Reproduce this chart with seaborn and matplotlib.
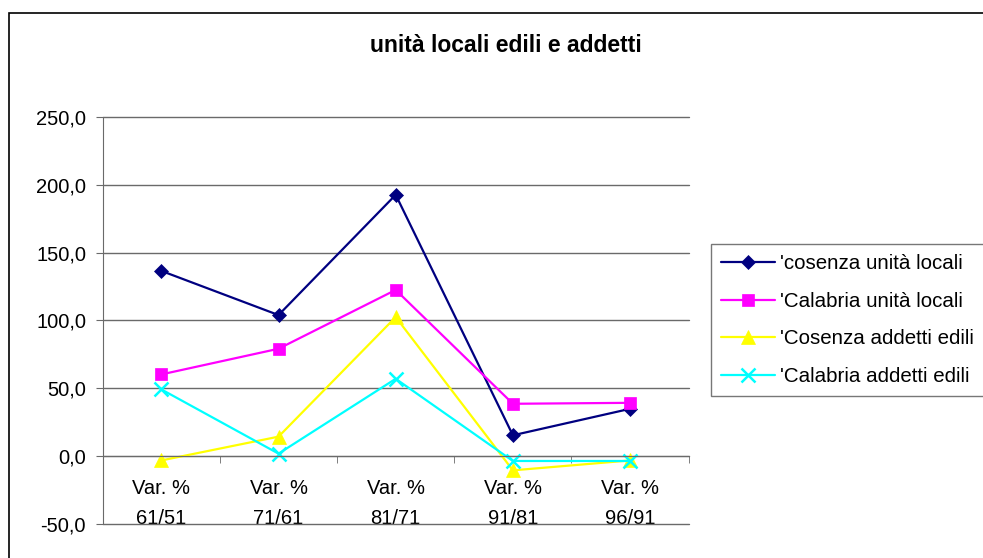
import numpy as np
import pandas as pd
import matplotlib
matplotlib.use("Agg")
import matplotlib.pyplot as plt
import seaborn as sns
from matplotlib.patches import Rectangle
from matplotlib.ticker import FuncFormatter, FixedLocator

# periodi (categorie asse x)
periodi = ["Var. %\n61/51", "Var. %\n71/61", "Var. %\n81/71", "Var. %\n91/81", "Var. %\n96/91"]

# serie
cosenza_unita = [136.5, 104.0, 192.5, 15.5, 35.0]
calabria_unita = [60.3, 79.2, 122.5, 38.7, 39.4]
cosenza_addetti = [-3.0, 14.5, 102.5, -10.3, -3.0]
calabria_addetti = [49.3, 2.0, 57.1, -3.4, -3.4]

serie = ["'cosenza unità locali", "'Calabria unità locali",
         "'Cosenza addetti edili", "'Calabria addetti edili"]
valori = [cosenza_unita, calabria_unita, cosenza_addetti, calabria_addetti]
colori = ["#000080", "#FF00FF", "#FFFF00", "#00FFFF"]
marcatori = ["D", "s", "^", "x"]
dim_marc = [7.5, 8, 9.5, 9.5]

sns.set_style("white")
plt.rcParams['font.family'] = ['Liberation Sans', 'DejaVu Sans']
plt.rcParams['text.color'] = 'black'
plt.rcParams['xtick.color'] = 'black'
plt.rcParams['ytick.color'] = 'black'

fig = plt.figure(figsize=(9.83, 5.58), dpi=100)
ax = fig.add_axes([0.1045, 0.0604, 0.5961, 0.7305])

# bordo esterno dell'area grafico
fig.patches.append(Rectangle((9 / 983, -0.2), 1.2, 1 - 12.7 / 558 + 0.2,
                             transform=fig.transFigure, fill=False,
                             edgecolor="black", linewidth=1.2))

pos = np.arange(len(periodi))
for nome, v, c, m, ms in zip(serie, valori, colori, marcatori, dim_marc):
    sns.lineplot(x=pos, y=v, ax=ax, color=c, marker=m, markersize=ms,
                 markeredgecolor=c, markerfacecolor=c,
                 markeredgewidth=1.8 if m == "x" else 0.5,
                 linewidth=1.6, label=nome)

ax.set_xlim(-0.5, len(periodi) - 0.5)
ax.set_ylim(-50, 250)
ax.set_yticks(np.arange(-50, 251, 50))
ax.yaxis.set_major_formatter(FuncFormatter(lambda y, p: f"{y:.1f}".replace(".", ",")))
ax.grid(axis="y", color="#6a6a6a", linewidth=1.0)
ax.set_axisbelow(True)
for gl in ax.get_ygridlines():
    gl.set_clip_on(False)

ax.set_xticks(pos)
ax.set_xticklabels(periodi)
ax.xaxis.set_minor_locator(FixedLocator(np.arange(-0.5, len(periodi), 1.0)))

for s in ["top", "right"]:
    ax.spines[s].set_visible(False)
ax.spines["bottom"].set_position(("data", 0))
ax.spines["left"].set_color("#6a6a6a")
ax.spines["bottom"].set_color("#6a6a6a")

ax.tick_params(axis="y", which="major", length=5, direction="out", color="#6a6a6a",
               labelsize=14.5, pad=7, left=True)
ax.tick_params(axis="x", which="major", length=0, labelsize=14.5, pad=16, bottom=True)
ax.tick_params(axis="x", which="minor", length=5, direction="out", color="#6a6a6a", bottom=True)
for lab in ax.get_xticklabels():
    lab.set_linespacing(1.75)
ax.set_xlabel("")
ax.set_ylabel("")

fig.text(505.5 / 983, 1 - 51.7 / 558, "unità locali edili e addetti",
         ha="center", va="baseline", fontsize=16.5, fontweight="bold", color="black")

leg = ax.legend(loc="upper left", bbox_to_anchor=(711 / 983, 1 - 244 / 558),
                bbox_transform=fig.transFigure, fontsize=14.8, frameon=True,
                fancybox=False, edgecolor="#555555", handlelength=2.6,
                handletextpad=0.25, labelspacing=0.9, borderpad=0.5,
                borderaxespad=0)
leg.get_frame().set_linewidth(1.0)

fig.savefig("out.png", dpi=100)
